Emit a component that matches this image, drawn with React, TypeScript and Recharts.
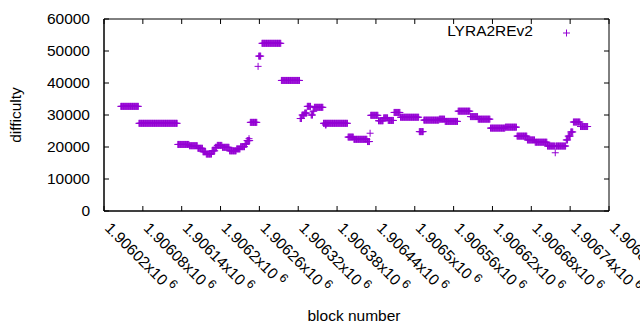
import { ReferenceArea, ReferenceLine, Scatter, ScatterChart, XAxis, YAxis } from "recharts";

// runs of blocks sharing one difficulty value (first block, last block, difficulty)
const runStart = [
  1906046, 1906074, 1906134, 1906152, 1906165, 1906173, 1906178, 1906187, 1906192, 1906195,
  1906203, 1906214, 1906225, 1906231, 1906238, 1906241, 1906244, 1906246, 1906258, 1906259,
  1906264, 1906294, 1906323, 1906326, 1906330, 1906334, 1906340, 1906343, 1906345, 1906359,
  1906362, 1906367, 1906397, 1906406, 1906427, 1906431, 1906432, 1906444, 1906452, 1906459,
  1906468, 1906478, 1906507, 1906514, 1906538, 1906547, 1906567, 1906586, 1906598, 1906617,
  1906640, 1906658, 1906674, 1906686, 1906705, 1906717, 1906718, 1906734, 1906737, 1906741,
  1906745, 1906756,
];
const runEnd = [
  1906073, 1906133, 1906151, 1906164, 1906172, 1906177, 1906186, 1906191, 1906194, 1906202,
  1906213, 1906224, 1906230, 1906237, 1906240, 1906245, 1906244, 1906256, 1906258, 1906262,
  1906293, 1906322, 1906325, 1906329, 1906333, 1906339, 1906342, 1906344, 1906358, 1906366,
  1906363, 1906396, 1906405, 1906426, 1906430, 1906431, 1906443, 1906451, 1906458, 1906467,
  1906477, 1906506, 1906513, 1906537, 1906546, 1906566, 1906585, 1906597, 1906616, 1906639,
  1906657, 1906673, 1906685, 1906704, 1906716, 1906717, 1906733, 1906736, 1906740, 1906744,
  1906755, 1906767,
];
const runDifficulty = [
  32700, 27400, 20800, 20400, 19600, 18500, 17800, 18800, 19900, 20500,
  19900, 18800, 19400, 20100, 20900, 22000, 22600, 27700, 45200, 48400,
  52400, 40800, 28900, 30000, 30600, 32700, 30000, 31200, 32400, 27400,
  26900, 27400, 23100, 22400, 21700, 24300, 29900, 28200, 29100, 28300,
  30800, 29300, 24800, 28400, 28700, 28000, 31200, 29500, 28700, 25900,
  26200, 23400, 22200, 21500, 20300, 18200, 20300, 22200, 23400, 24700,
  27800, 26400,
];

const xTicks = [
  1906020, 1906080, 1906140, 1906200, 1906260, 1906320, 1906380, 1906440, 1906500, 1906560,
  1906620, 1906680, 1906740, 1906800,
];
const xTickLabels = [
  "1.90602", "1.90608", "1.90614", "1.9062", "1.90626", "1.90632", "1.90638", "1.90644",
  "1.9065", "1.90656", "1.90662", "1.90668", "1.90674", "1.9068",
];
const yTicks = [0, 10000, 20000, 30000, 40000, 50000, 60000];

const seriesName = "LYRA2REv2";

const COLOR = "#9400d3";
const FONT = "'Liberation Sans', Arial, sans-serif";
const FS = 15.5;
const X_DOMAIN = [1906020, 1906800];
const Y_DOMAIN = [0, 60000];
// mirrored tick length on the top and right border, in data units (about 5px)
const TOP_TICK = 1560;
const RIGHT_TICK = 7.7;

const points: { block: number; difficulty: number }[] = [];
runStart.forEach((s, i) => {
  for (let b = s; b <= runEnd[i]; b++) points.push({ block: b, difficulty: runDifficulty[i] });
});

function Plus(props: any) {
  const { cx, cy } = props;
  if (cx == null || cy == null) return null;
  return (
    <path
      d={`M${cx - 3.5},${cy}H${cx + 3.5}M${cx},${cy - 3.5}V${cy + 3.5}`}
      stroke={COLOR}
      strokeWidth={1}
      fill="none"
    />
  );
}

function BottomTick(props: any) {
  const { x, y, payload } = props;
  const i = xTicks.indexOf(payload.value);
  const ty = y + 18;
  return (
    <g>
      <line x1={x} y1={y} x2={x} y2={y - 5} stroke="#000" />
      <text
        x={x}
        y={ty}
        transform={`rotate(45, ${x}, ${ty})`}
        fontFamily={FONT}
        fontSize={FS}
        fill="#000"
        textAnchor="start"
      >
        {xTickLabels[i]}x10
        <tspan dy={-6} fontSize={FS * 0.8}>
          {" 6"}
        </tspan>
      </text>
    </g>
  );
}

function LeftTick(props: any) {
  const { x, y, payload } = props;
  return (
    <g>
      <line x1={x} y1={y} x2={x + 5} y2={y} stroke="#000" />
      <text
        x={x - 14}
        y={y}
        dy="0.35em"
        textAnchor="end"
        fontFamily={FONT}
        fontSize={FS}
        fill="#000"
      >
        {payload.value}
      </text>
    </g>
  );
}

export default function App() {
  return (
    <div style={{ position: "fixed", left: 0, top: 0, width: 640, height: 330, background: "#fff" }}>
      <ScatterChart width={640} height={330} margin={{ top: 19, right: 31, bottom: 0, left: 0 }}>
        <XAxis
          xAxisId="b"
          dataKey="block"
          type="number"
          domain={X_DOMAIN}
          allowDataOverflow
          ticks={xTicks}
          interval={0}
          height={119}
          tickSize={0}
          tickMargin={0}
          tick={<BottomTick />}
          axisLine={{ stroke: "#000" }}
        />
        <YAxis
          yAxisId="l"
          dataKey="difficulty"
          type="number"
          domain={Y_DOMAIN}
          allowDataOverflow
          ticks={yTicks}
          interval={0}
          width={104}
          tickSize={0}
          tickMargin={0}
          tick={<LeftTick />}
          axisLine={{ stroke: "#000" }}
        />
        <ReferenceArea
          xAxisId="b"
          yAxisId="l"
          x1={X_DOMAIN[0]}
          x2={X_DOMAIN[1]}
          y1={Y_DOMAIN[0]}
          y2={Y_DOMAIN[1]}
          fill="none"
          fillOpacity={0}
          stroke="#000"
          strokeOpacity={1}
          ifOverflow="visible"
        />
        {xTicks.map((t) => (
          <ReferenceLine
            key={`tt${t}`}
            xAxisId="b"
            yAxisId="l"
            segment={[
              { x: t, y: Y_DOMAIN[1] },
              { x: t, y: Y_DOMAIN[1] - TOP_TICK },
            ]}
            stroke="#000"
            strokeWidth={1}
            ifOverflow="visible"
          />
        ))}
        {yTicks.map((t) => (
          <ReferenceLine
            key={`rt${t}`}
            xAxisId="b"
            yAxisId="l"
            segment={[
              { x: X_DOMAIN[1], y: t },
              { x: X_DOMAIN[1] - RIGHT_TICK, y: t },
            ]}
            stroke="#000"
            strokeWidth={1}
            ifOverflow="visible"
          />
        ))}
        <Scatter
          xAxisId="b"
          yAxisId="l"
          name={seriesName}
          data={points}
          shape={<Plus />}
          isAnimationActive={false}
        />
      </ScatterChart>
      <div
        style={{
          position: "absolute",
          left: 0,
          top: 0,
          width: 640,
          height: 330,
          pointerEvents: "none",
          fontFamily: FONT,
          fontSize: FS,
          color: "#000",
        }}
      >
        <div style={{ position: "absolute", right: 640 - 533, top: 22, whiteSpace: "nowrap" }}>{seriesName}</div>
        <svg style={{ position: "absolute", left: 562, top: 28 }} width={10} height={10}>
          <path d="M1,5H8M4.5,1.5V8.5" stroke={COLOR} strokeWidth={1} />
        </svg>
        <div
          style={{
            position: "absolute",
            left: 16,
            top: 115,
            transform: "translate(-50%, -50%) rotate(-90deg)",
            whiteSpace: "nowrap",
          }}
        >
          difficulty
        </div>
        <div
          style={{
            position: "absolute",
            left: 354,
            top: 316,
            transform: "translate(-50%, -50%)",
            whiteSpace: "nowrap",
          }}
        >
          block number
        </div>
      </div>
    </div>
  );
}
